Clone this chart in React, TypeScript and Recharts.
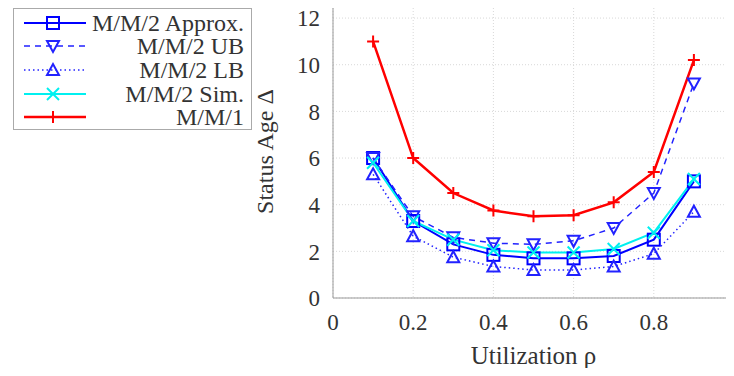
import React from 'react';
import { LineChart, Line, XAxis, YAxis, CartesianGrid, Label } from 'recharts';

// utilization values on the x axis
const rho = [0.1, 0.2, 0.3, 0.4, 0.5, 0.6, 0.7, 0.8, 0.9];

// status age for each model
const mm2Approx = [6.0, 3.3, 2.3, 1.85, 1.7, 1.7, 1.8, 2.5, 5.0];
const mm2UB = [6.0, 3.5, 2.6, 2.35, 2.3, 2.45, 3.0, 4.5, 9.2];
const mm2LB = [5.3, 2.65, 1.75, 1.35, 1.2, 1.2, 1.35, 1.9, 3.7];
const mm2Sim = [5.8, 3.3, 2.5, 2.05, 1.95, 1.95, 2.1, 2.8, 5.1];
const mm1 = [11.0, 6.0, 4.5, 3.75, 3.5, 3.55, 4.1, 5.4, 10.2];

const xTicks = [0, 0.2, 0.4, 0.6, 0.8, 1];
const yTicks = [0, 2, 4, 6, 8, 10, 12];

const data = rho.map((r, i) => ({
  rho: r,
  approx: mm2Approx[i],
  ub: mm2UB[i],
  lb: mm2LB[i],
  sim: mm2Sim[i],
  mm1: mm1[i],
}));

type Shape = 'square' | 'down' | 'up' | 'cross' | 'plus';

const Marker: React.FC<{ shape: Shape; cx: number; cy: number; color: string }> = ({ shape, cx, cy, color }) => {
  const s = 6;
  const common = { stroke: color, strokeWidth: 2, fill: 'none' };
  switch (shape) {
    case 'square':
      return <rect x={cx - s} y={cy - s} width={s * 2} height={s * 2} {...common} />;
    case 'down':
      return <polygon points={`${cx - s},${cy - s + 1} ${cx + s},${cy - s + 1} ${cx},${cy + s}`} {...common} />;
    case 'up':
      return <polygon points={`${cx - s},${cy + s - 1} ${cx + s},${cy + s - 1} ${cx},${cy - s}`} {...common} />;
    case 'cross':
      return (
        <g {...common}>
          <line x1={cx - s} y1={cy - s} x2={cx + s} y2={cy + s} />
          <line x1={cx - s} y1={cy + s} x2={cx + s} y2={cy - s} />
        </g>
      );
    default:
      return (
        <g {...common}>
          <line x1={cx - s} y1={cy} x2={cx + s} y2={cy} />
          <line x1={cx} y1={cy - s} x2={cx} y2={cy + s} />
        </g>
      );
  }
};

const dotFor = (shape: Shape, color: string) => (props: any) => (
  <g key={`${shape}-${props.index}`}>
    <Marker shape={shape} cx={props.cx} cy={props.cy} color={color} />
  </g>
);

const series = [
  { key: 'approx', name: 'M/M/2 Approx.', color: '#0000ff', dash: undefined, width: 2, shape: 'square' as Shape },
  { key: 'ub', name: 'M/M/2 UB', color: '#2222ff', dash: '6 5', width: 1.5, shape: 'down' as Shape },
  { key: 'lb', name: 'M/M/2 LB', color: '#2222ff', dash: '1.5 3', width: 1.5, shape: 'up' as Shape },
  { key: 'sim', name: 'M/M/2 Sim.', color: '#00f0f0', dash: undefined, width: 2, shape: 'cross' as Shape },
  { key: 'mm1', name: 'M/M/1', color: '#ff0000', dash: undefined, width: 2.5, shape: 'plus' as Shape },
];

const font = '"Liberation Serif", "Times New Roman", serif';

const LegendBox = () => (
  <div
    style={{
      position: 'absolute',
      left: 13,
      top: 8,
      width: 239,
      height: 122,
      border: '1px solid #aaaaaa',
      background: '#fff',
      fontFamily: font,
      fontSize: 24,
      color: '#333',
      paddingTop: 2,
      boxSizing: 'border-box',
      zIndex: 2,
    }}
  >
    {series.map((s) => (
      <div key={s.key} style={{ display: 'flex', alignItems: 'center', height: 23.6 }}>
        <svg width={74} height={20} style={{ flex: 'none' }}>
          <line x1={10} y1={10} x2={72} y2={10} stroke={s.color} strokeWidth={s.width} strokeDasharray={s.dash} />
          <Marker shape={s.shape} cx={39} cy={10} color={s.color} />
        </svg>
        <span style={{ flex: 1, textAlign: 'right', paddingRight: 7, lineHeight: '20px', whiteSpace: 'nowrap' }}>{s.name}</span>
      </div>
    ))}
  </div>
);

export default function App() {
  const tickStyle = { fill: '#333', fontSize: 23, fontFamily: font };
  const labelStyle = { fill: '#333', fontSize: 25, fontFamily: font };
  return (
    <div style={{ position: 'relative', width: 734, height: 376, margin: -8, overflow: 'hidden', background: '#fff' }}>
      <LineChart width={760} height={376} data={data} margin={{ top: 5, right: 26, left: 250, bottom: 0 }}>
        <CartesianGrid stroke="#d8d8d8" strokeDasharray="1 2" />
        <XAxis
          dataKey="rho"
          type="number"
          domain={[0, 1]}
          ticks={xTicks}
          tickLine={false}
          axisLine={{ stroke: '#999999' }}
          tickMargin={10}
          height={78}
          tick={tickStyle}
          interval={0}
        >
          <Label value="Utilization ρ" position="insideBottom" offset={12} style={labelStyle} />
        </XAxis>
        <XAxis
          xAxisId="top"
          orientation="top"
          type="number"
          domain={[0, 1]}
          tick={false}
          tickLine={false}
          axisLine={{ stroke: '#999999' }}
          height={0}
        />
        <YAxis
          type="number"
          domain={[0, 12.56]}
          ticks={yTicks}
          tickLine={false}
          axisLine={{ stroke: '#999999' }}
          tickMargin={7}
          width={83}
          tick={tickStyle}
          allowDataOverflow
          interval={0}
        >
          <Label value="Status Age Δ" angle={-90} position="insideLeft" offset={14} style={{ ...labelStyle, fontSize: 24, textAnchor: 'middle' }} />
        </YAxis>
        {series.map((s) => (
          <Line
            key={s.key}
            dataKey={s.key}
            name={s.name}
            type="linear"
            stroke={s.color}
            strokeWidth={s.width}
            strokeDasharray={s.dash}
            dot={dotFor(s.shape, s.color)}
            activeDot={false}
            isAnimationActive={false}
          />
        ))}
      </LineChart>
      <LegendBox />
    </div>
  );
}
